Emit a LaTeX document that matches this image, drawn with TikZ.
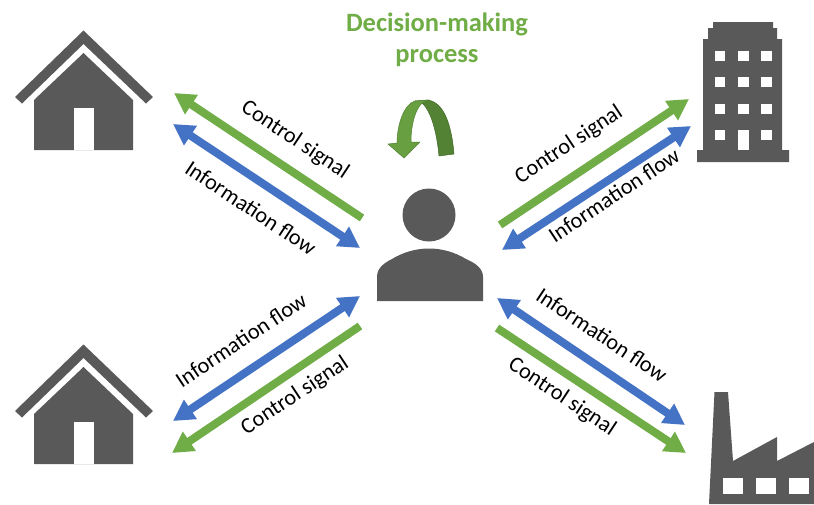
\documentclass[tikz,border=0pt]{standalone}
\usepackage{fontspec}
\setmainfont{Carlito}
\usetikzlibrary{arrows.meta}
\definecolor{icon}{HTML}{595959}
\definecolor{gr}{HTML}{70AD47}
\definecolor{grd}{HTML}{548235}
\definecolor{bl}{HTML}{4472C4}
\tikzset{
  iconshape/.style={fill=icon,draw=none},
  hole/.style={fill=white,draw=none},
  ctrl/.style={draw=gr,line width=8pt,-{Triangle[width=22pt,length=21pt]}},
  info/.style={draw=bl,line width=8pt,{Triangle[width=22pt,length=21pt]}-{Triangle[width=22pt,length=21pt]}},
  lab/.style={font=\fontsize{22.3}{24}\selectfont,text=black,inner sep=0pt},
  titl/.style={font=\bfseries\fontsize{26.5}{30}\selectfont,text=gr,align=center,inner sep=0pt}
}
\newcommand{\myhouse}[1]{%
  \begin{scope}[yshift=-#1pt]
    \fill[iconshape] (83.5,30.5)--(153,97)--(146,103.5)--(83.5,44)--(22,103.5)--(15,97)--cycle;
    \fill[iconshape] (83.5,53)--(133,100)--(133,150)--(34,150)--(34,100)--cycle;
    \fill[hole] (74,108) rectangle (94,150);
  \end{scope}}
\begin{document}
\begin{tikzpicture}[x=1pt,y=-1pt]
\useasboundingbox (0,0) rectangle (814,504);
% houses
\myhouse{0}
\myhouse{314}
% person
\fill[iconshape] (429,215) circle (26.5);
\fill[iconshape] (377,301)--(377,277) .. controls (377,268) and (384,263) .. (392,259) .. controls (415,245) and (443,245) .. (466,259) .. controls (475,263) and (483,268) .. (483,277) --(483,301)--cycle;
% building
\fill[iconshape] (713,22)--(773,22)--(773,28)--(777,28)--(777,39)--(782,39)--(782,150)--(789,150)--(789,162)--(697,162)--(697,150)--(703,150)--(703,39)--(708,39)--(708,28)--(713,28)--cycle;
\foreach \x in {714.5,738,761}{
  \foreach \y in {51,77,103.5}{
    \fill[hole] (\x,\y) rectangle +(10.5,10);
  }}
\fill[hole] (714.5,130) rectangle +(10.5,10);
\fill[hole] (761,130) rectangle +(10.5,10);
\fill[hole] (738,130) rectangle (748.5,150);
% factory
\fill[iconshape] (714.5,392)--(728,392)--(733,461)--(777,437)--(777,461)--(814,442)--(814,504)--(709,504)--cycle;
\fill[hole] (723,478) rectangle (743,494);
\fill[hole] (756,478) rectangle (776,494);
\fill[hole] (789,478) rectangle (809,494);
% turn arrow
\fill[grd,draw=grd!80!black,line width=0.5pt] (439,156) .. controls (437,135) and (432,112) .. (422,103) -- (415,101) -- (428,100) .. controls (446,103) and (452,130) .. (454,154) -- cycle;
\fill[gr!92!black,draw=grd,line width=0.5pt] (428,100) -- (415,101) .. controls (404,104) and (397,125) .. (397,143) -- (388,144) -- (404,158) -- (420,142) -- (411,142) .. controls (411,125) and (415,110) .. (422,103) -- cycle;
% title
\node[titl] (title) at (437,39.5) {Decision-making\\[1pt]process};
% connector ends
\coordinate (ulc1) at (362,218); \coordinate (ulc2) at (174,93);
\coordinate (uli1) at (360,248); \coordinate (uli2) at (173,124);
\coordinate (urc1) at (500,225); \coordinate (urc2) at (689,99);
\coordinate (uri1) at (502,250); \coordinate (uri2) at (691,126);
\coordinate (lli1) at (360,296); \coordinate (lli2) at (173,421);
\coordinate (llc1) at (360,326); \coordinate (llc2) at (172,453);
\coordinate (lri1) at (497,298); \coordinate (lri2) at (685,425);
\coordinate (lrc1) at (497,328); \coordinate (lrc2) at (686,453);
\draw[ctrl] (ulc1)--(ulc2);
\draw[info] (uli1)--(uli2);
\draw[ctrl] (urc1)--(urc2);
\draw[info] (uri1)--(uri2);
\draw[info] (lli1)--(lli2);
\draw[ctrl] (llc1)--(llc2);
\draw[info] (lri1)--(lri2);
\draw[ctrl] (lrc1)--(lrc2);
% labels
\node[lab,rotate=-33.5] (l1) at (295,140) {Control signal};
\node[lab,rotate=-33.5] (l2) at (251,208) {Information flow};
\node[lab,rotate=33.5] (l3) at (569,145) {Control signal};
\node[lab,rotate=33.5] (l4) at (614,195) {Information flow};
\node[lab,rotate=33.5] (l5) at (241,340) {Information flow};
\node[lab,rotate=33.5] (l6) at (295,396) {Control signal};
\node[lab,rotate=-33.5] (l7) at (602,335) {Information flow};
\node[lab,rotate=-33.5] (l8) at (562,397) {Control signal};
\end{tikzpicture}
\end{document}
